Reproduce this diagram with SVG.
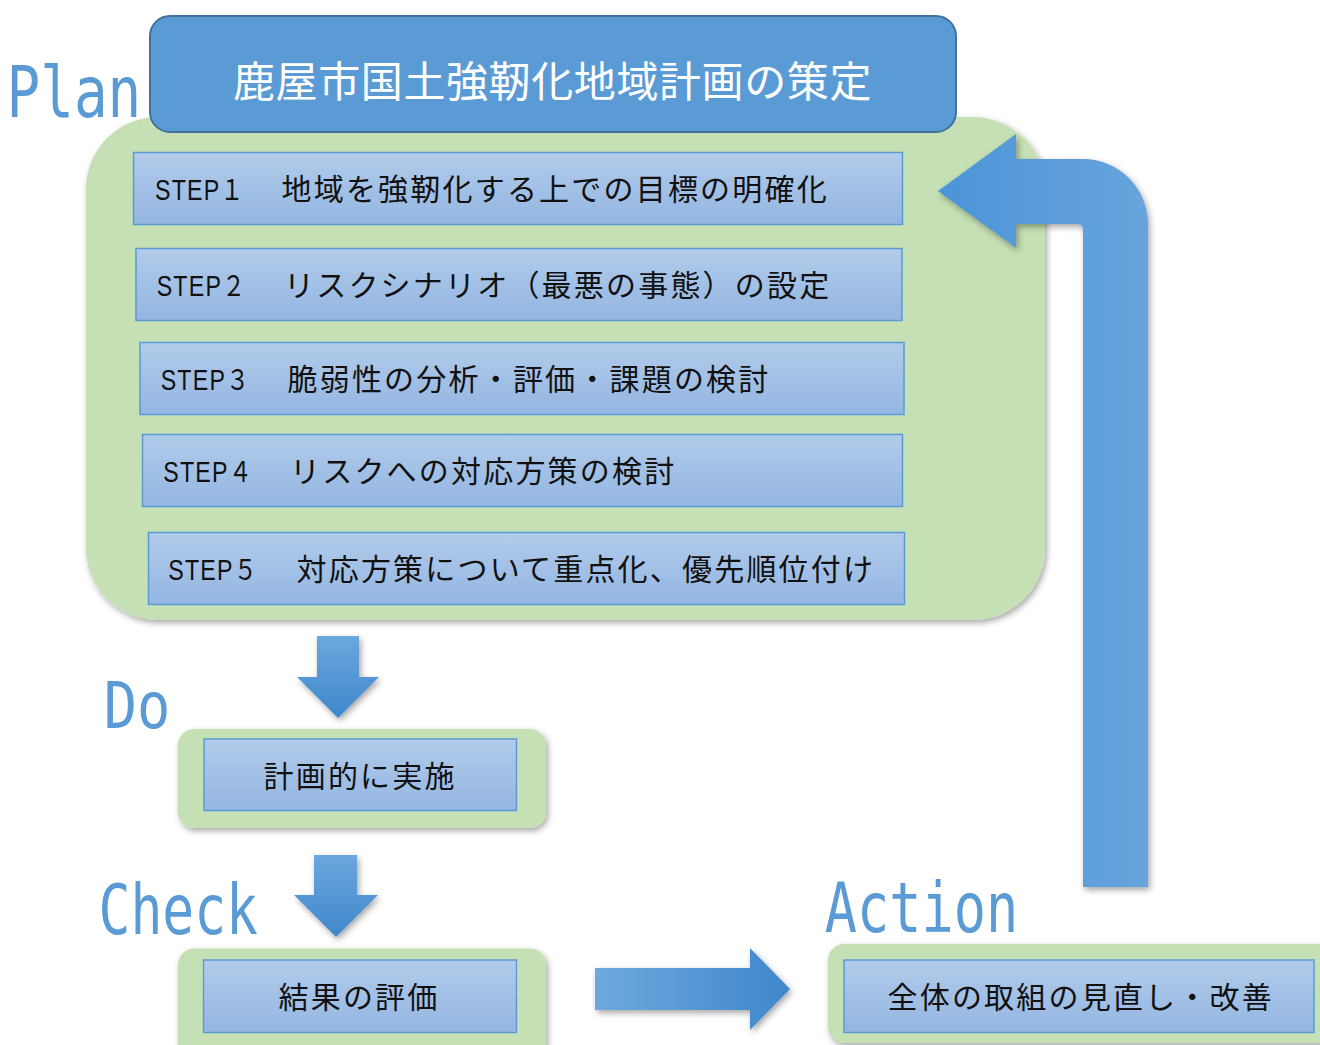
<svg xmlns="http://www.w3.org/2000/svg" width="1320" height="1045" viewBox="0 0 1320 1045">
<defs>
<filter id="sh" x="-10%" y="-10%" width="130%" height="130%">
<feDropShadow dx="2" dy="3" stdDeviation="3" flood-color="#000" flood-opacity="0.35"/>
</filter>
<linearGradient id="stepG" x1="0" y1="0" x2="0" y2="1">
<stop offset="0" stop-color="#b1cbea"/>
<stop offset="1" stop-color="#94b6e2"/>
</linearGradient>
<linearGradient id="downG" x1="0" y1="0" x2="0" y2="1">
<stop offset="0" stop-color="#6ca7de"/>
<stop offset="1" stop-color="#3f87cb"/>
</linearGradient>
<linearGradient id="rightG" x1="0" y1="0" x2="1" y2="0">
<stop offset="0" stop-color="#6ea9de"/>
<stop offset="1" stop-color="#3f87cb"/>
</linearGradient>
<linearGradient id="uG" x1="0" y1="0" x2="1" y2="0">
<stop offset="0" stop-color="#4b94d8"/>
<stop offset="1" stop-color="#68a4dc"/>
</linearGradient>
</defs>
<style>
.green{fill:#c5e0b4;}
.step{fill:url(#stepG);stroke:#5b9bd5;stroke-width:1.5;}
.jp{font-family:"Noto Sans CJK JP","Noto Sans",sans-serif;font-size:30px;letter-spacing:2.2px;fill:#111;}
.stp{font-family:"Liberation Sans","Noto Sans CJK JP",sans-serif;font-size:29px;fill:#111;}
.lbl{font-family:"DejaVu Sans Mono","Liberation Mono",monospace;fill:#5b9bd5;}
.title{font-family:"Noto Sans CJK JP",sans-serif;font-size:42px;letter-spacing:0.6px;fill:#fff;}
</style>

<g id="plan-group">
<rect class="green" x="86" y="117" width="959" height="503" rx="72" filter="url(#sh)"/>
</g>
<g id="title">
<rect x="150" y="16" width="806" height="116" rx="20" fill="#5b9bd5" stroke="#41719c" stroke-width="2"/>
<text class="title" x="233" y="97">鹿屋市国土強靭化地域計画の策定</text>
</g>
<g id="label-plan"><text class="lbl" x="6.6" y="117" font-size="72" textLength="134.7" lengthAdjust="spacingAndGlyphs">Plan</text></g>

<g id="step1">
<rect class="step" x="133.5" y="152.5" width="769" height="72"/>
<text class="stp" transform="translate(155,200) scale(0.8,1)" letter-spacing="1.5">STEP１</text>
<text class="jp" x="281.5" y="200">地域を強靭化する上での目標の明確化</text>
</g>
<g id="step2">
<rect class="step" x="136" y="248.5" width="766" height="72"/>
<text class="stp" transform="translate(156.7,296) scale(0.8,1)" letter-spacing="1.5">STEP２</text>
<text class="jp" x="284" y="296">リスクシナリオ（最悪の事態）の設定</text>
</g>
<g id="step3">
<rect class="step" x="140" y="342.5" width="764" height="72"/>
<text class="stp" transform="translate(160.7,390) scale(0.8,1)" letter-spacing="1.5">STEP３</text>
<text class="jp" x="287.5" y="390">脆弱性の分析・評価・課題の検討</text>
</g>
<g id="step4">
<rect class="step" x="142.5" y="434.5" width="760" height="72"/>
<text class="stp" transform="translate(163.3,482) scale(0.8,1)" letter-spacing="1.5">STEP４</text>
<text class="jp" x="290" y="482">リスクへの対応方策の検討</text>
</g>
<g id="step5">
<rect class="step" x="148.5" y="532.5" width="756" height="72"/>
<text class="stp" transform="translate(168.3,580) scale(0.8,1)" letter-spacing="1.5">STEP５</text>
<text class="jp" x="296.5" y="580">対応方策について重点化、優先順位付け</text>
</g>

<g id="label-do"><text class="lbl" x="103.7" y="728" font-size="64" textLength="66.7" lengthAdjust="spacingAndGlyphs">Do</text></g>
<g id="do">
<rect class="green" x="178" y="729" width="368" height="99" rx="16" filter="url(#sh)"/>
<rect class="step" x="204" y="739" width="312.5" height="71.5"/>
<text class="jp" x="263.5" y="787">計画的に実施</text>
</g>

<g id="label-check"><text class="lbl" x="98.5" y="934" font-size="70" textLength="159.5" lengthAdjust="spacingAndGlyphs">Check</text></g>
<g id="check">
<rect class="green" x="178" y="948.5" width="368" height="110" rx="16" filter="url(#sh)"/>
<rect class="step" x="203.5" y="960" width="313" height="72.5"/>
<text class="jp" x="278.5" y="1008">結果の評価</text>
</g>

<g id="label-action"><text class="lbl" x="824.8" y="932" font-size="70" textLength="193.4" lengthAdjust="spacingAndGlyphs">Action</text></g>
<g id="action">
<rect class="green" x="828" y="944" width="510" height="99" rx="16" filter="url(#sh)"/>
<rect class="step" x="844" y="960" width="470" height="72.5"/>
<text class="jp" x="887.5" y="1008">全体の取組の見直し・改善</text>
</g>

<g id="connectors">
<path d="M317,636 L359,636 L359,677 L379,677 L338,718 L297,677 L317,677 Z" fill="url(#downG)" filter="url(#sh)"/>
<path d="M314,855 L357,855 L357,895 L378,895 L336,937 L294,895 L314,895 Z" fill="url(#downG)" filter="url(#sh)"/>
<path d="M595,968 L750,968 L750,948 L790,989 L750,1030 L750,1010 L595,1010 Z" fill="url(#rightG)" filter="url(#sh)"/>
<path d="M938,191 L1016,134 L1016,159 L1083,159 A65,65 0 0 1 1148,224 L1148,887 L1083,887 L1083,230 Q1083,224 1077,224 L1016,224 L1016,248 Z" fill="url(#uG)" filter="url(#sh)"/>
</g>
</svg>
